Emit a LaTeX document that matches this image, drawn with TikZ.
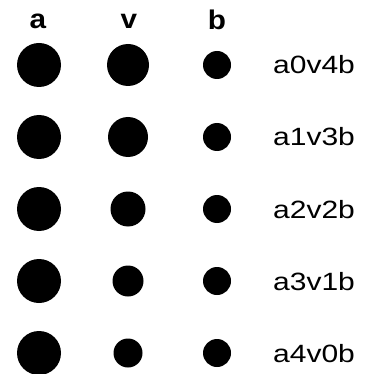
\documentclass[tikz,border=0pt]{standalone}
\usepackage{graphicx}
\usepackage{fontspec}
\setmainfont{Liberation Sans}
\begin{document}
\begin{tikzpicture}[x=1pt,y=-1pt,
  dot/.style={circle,fill=black,draw=none,inner sep=0pt,minimum size=#1},
  hdr/.style={inner sep=0pt,anchor=base,font=\fontsize{27}{27}\selectfont\bfseries},
  lbl/.style={inner sep=0pt,anchor=base west,font=\fontsize{25}{25}\selectfont}]
\useasboundingbox[fill=white] (0,0) rectangle (364,374);
\node[hdr] (ha) at (38,29) {\scalebox{1.1}[1]{a}};
\node[hdr] (hv) at (129,29) {\scalebox{1.1}[1]{v}};
\node[hdr] (hb) at (217,30) {\scalebox{1.1}[1]{b}};
\foreach \i/\vs in {0/42,1/40,2/35,3/31,4/29}{
  \pgfmathtruncatemacro{\yy}{65+72*\i}
  \pgfmathtruncatemacro{\yb}{74+72*\i}
  \pgfmathtruncatemacro{\j}{4-\i}
  \node[dot=44pt] (a\i) at (39,\yy) {};
  \node[dot=\vs pt] (v\i) at (128,\yy) {};
  \node[dot=28pt] (b\i) at (217,\yy) {};
  \node[lbl] (l\i) at (273,\yb) {\scalebox{1.2}[1]{a\i v\j b}};
}
\end{tikzpicture}
\end{document}
